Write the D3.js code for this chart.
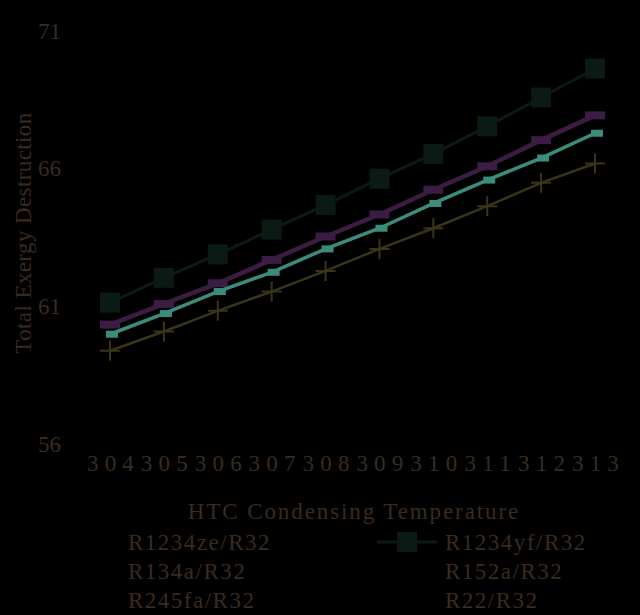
<!DOCTYPE html>
<html>
<head>
<meta charset="utf-8">
<script src="https://cdn.jsdelivr.net/npm/d3@7"></script>
<style>
  body { margin: 0; background: #000; }
  svg { display: block; background: #000; }
</style>
</head>
<body>
<svg></svg>
<script>
// condensing temperatures (x categories)
var temps = [304, 305, 306, 307, 308, 309, 310, 311, 312, 313];

// total exergy destruction per mixture
var r1234yf = [61.1, 62.0, 62.85, 63.75, 64.65, 65.6, 66.5, 67.5, 68.55, 69.6];
var r134a = [60.3, 61.05, 61.8, 62.65, 63.5, 64.3, 65.2, 66.05, 67.0, 67.9];
var r152a = [59.95, 60.7, 61.5, 62.2, 63.05, 63.8, 64.7, 65.55, 66.35, 67.25];
var r22 = [59.35, 60.05, 60.8, 61.5, 62.25, 63.05, 63.8, 64.6, 65.45, 66.15];

var yTicks = [56, 61, 66, 71];

var legendNames = ["R1234ze/R32", "R1234yf/R32", "R134a/R32", "R152a/R32", "R245fa/R32", "R22/R32"];

window.onload = function() {
  var width = 640;
  var height = 615;
  var textColor = "#3a2b1e";
  var font = "'Liberation Serif', 'DejaVu Serif', serif";

  var svg = d3.select("svg")
    .attr("width", width)
    .attr("height", height);

  var x = d3.scalePoint()
    .domain(temps)
    .range([110, 595]);

  var y = d3.scaleLinear()
    .domain([56, 71])
    .range([443, 30]);

  // series drawn on the chart
  var series = [
    { name: "R1234yf/R32", values: r1234yf, color: "#0b1a15", width: 3, marker: "bigSquare" },
    { name: "R134a/R32", values: r134a, color: "#3b1c42", width: 4.5, marker: "flatRect" },
    { name: "R152a/R32", values: r152a, color: "#3c8c7b", width: 3.5, marker: "smallRect" },
    { name: "R22/R32", values: r22, color: "#3a3418", width: 2.5, marker: "plus" }
  ];

  var line = d3.line()
    .x(function(d) { return x(d.t); })
    .y(function(d) { return y(d.v); });

  function drawMarker(g, type, color) {
    if (type == "bigSquare") {
      g.append("rect").attr("x", -10).attr("y", -10).attr("width", 20).attr("height", 20).attr("fill", color);
    } else if (type == "flatRect") {
      g.append("rect").attr("x", -10).attr("y", -4).attr("width", 20).attr("height", 8).attr("fill", color);
    } else if (type == "smallRect") {
      g.append("rect").attr("x", -4).attr("y", -3.5).attr("width", 12).attr("height", 7).attr("fill", color);
    } else if (type == "plus") {
      g.append("path").attr("d", "M-10,0H10M0,-10V10")
        .attr("stroke", color).attr("stroke-width", 2).attr("fill", "none");
    }
  }

  // axes (black on black, like the original)
  var yAxis = d3.axisLeft(y).tickValues(yTicks).tickSize(0).tickPadding(0);
  var yg = svg.append("g")
    .attr("transform", "translate(61,0)")
    .call(yAxis);
  yg.select(".domain").attr("stroke", "#000");
  yg.selectAll("text")
    .attr("fill", textColor)
    .style("font-family", font)
    .style("font-size", "23px")
    .attr("dy", "0.35em");

  var xAxis = d3.axisBottom(x).tickSize(0).tickPadding(0);
  var xg = svg.append("g")
    .attr("transform", "translate(0,455)")
    .call(xAxis);
  xg.select(".domain").attr("stroke", "#000");
  xg.selectAll("text")
    .attr("fill", textColor)
    .style("font-family", font)
    .style("font-size", "23px")
    .style("letter-spacing", "6.2px")
    .attr("dx", "3px")
    .attr("dy", "0.7em");

  // lines + markers
  series.forEach(function(s) {
    var pts = s.values.map(function(v, i) { return { t: temps[i], v: v }; });
    svg.append("path")
      .datum(pts)
      .attr("d", line)
      .attr("fill", "none")
      .attr("stroke", s.color)
      .attr("stroke-width", s.width);
    pts.forEach(function(p) {
      var g = svg.append("g").attr("transform", "translate(" + x(p.t) + "," + y(p.v) + ")");
      drawMarker(g, s.marker, s.color);
    });
  });

  // axis titles
  svg.append("text")
    .attr("transform", "translate(31,233) rotate(-90)")
    .attr("text-anchor", "middle")
    .attr("fill", textColor)
    .style("font-family", font)
    .style("font-size", "23px")
    .style("letter-spacing", "0.4px")
    .text("Total Exergy Destruction");

  svg.append("text")
    .attr("x", 354)
    .attr("y", 519)
    .attr("text-anchor", "middle")
    .attr("fill", textColor)
    .style("font-family", font)
    .style("font-size", "23px")
    .style("letter-spacing", "1.9px")
    .text("HTC Condensing Temperature");

  // legend, two columns
  var legend = svg.append("g");
  legendNames.forEach(function(name, i) {
    var col = i % 2;
    var row = Math.floor(i / 2);
    var tx = col == 0 ? 128 : 445;
    var ty = 542 + row * 29;
    var s = series.filter(function(d) { return d.name == name; })[0];
    // only the R1234yf key is visible in the original
    if (s && s.marker == "bigSquare") {
      legend.append("line")
        .attr("x1", tx - 68).attr("x2", tx - 8)
        .attr("y1", ty).attr("y2", ty)
        .attr("stroke", s.color).attr("stroke-width", 3);
      var g = legend.append("g").attr("transform", "translate(" + (tx - 38) + "," + ty + ")");
      drawMarker(g, s.marker, s.color);
    }
    legend.append("text")
      .attr("x", tx)
      .attr("y", ty + 8)
      .attr("fill", textColor)
      .style("font-family", font)
      .style("font-size", "23px")
      .style("letter-spacing", "1.5px")
      .text(name);
  });
};
</script>
</body>
</html>
